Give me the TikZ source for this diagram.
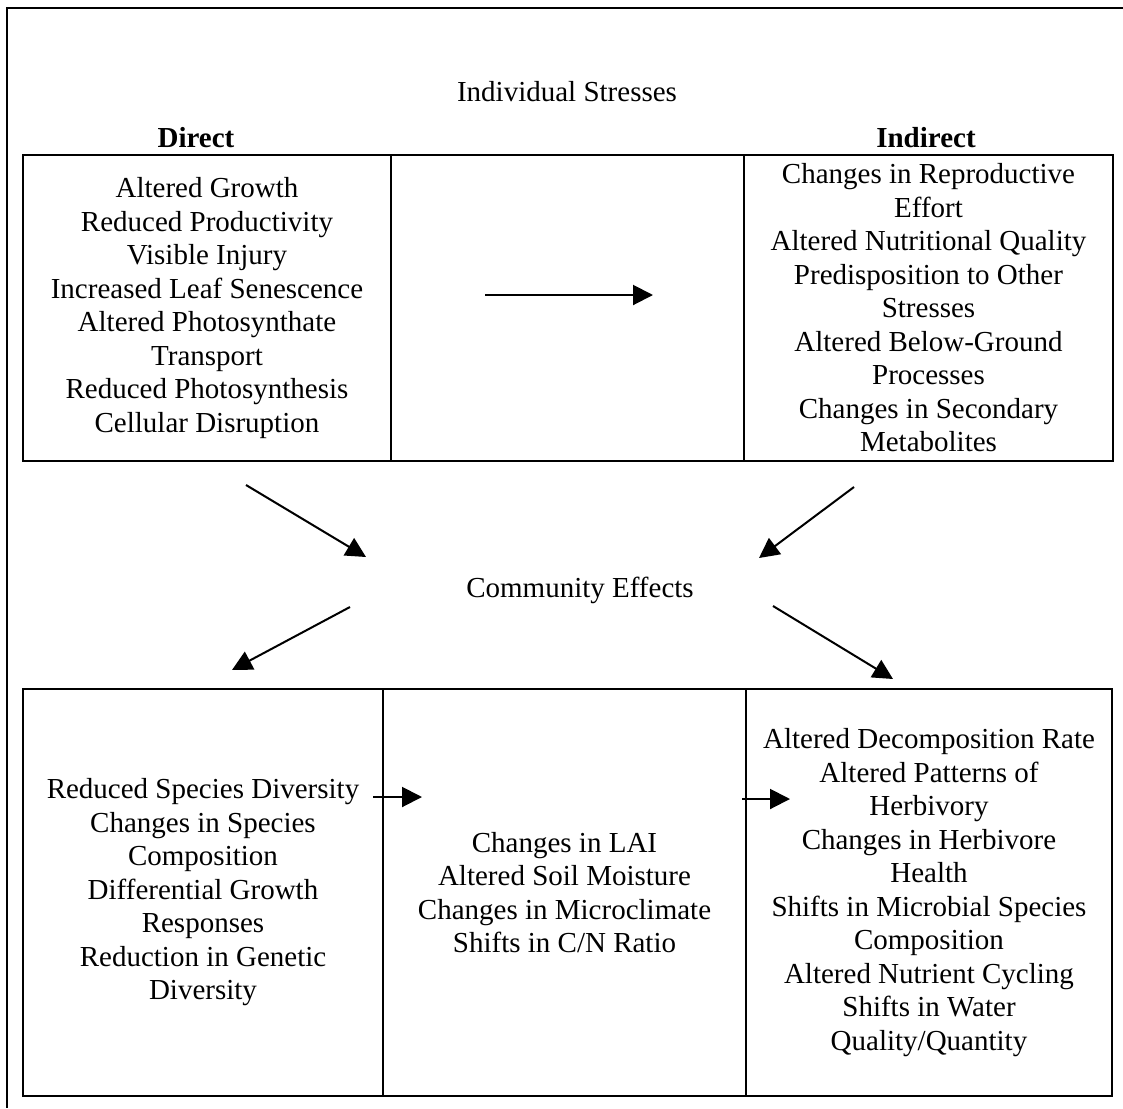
\documentclass[tikz,border=0pt]{standalone}
\usepackage{fontspec}
\setmainfont{Liberation Serif}
\usetikzlibrary{arrows.meta,positioning}

\begin{document}
\begin{tikzpicture}[x=1pt,y=-1pt,
	every node/.style={font=\fontsize{29}{33.5}\selectfont},
	cell/.style={draw, line width=2.5pt, align=center, inner sep=0pt},
	head/.style={font=\fontsize{29}{33.5}\selectfont\bfseries},
	arrow/.style={-{Triangle[length=20pt,width=20pt]}, line width=2pt}
	]
	\useasboundingbox (0,0) rectangle (1123,1108);
	\draw[line width=2.5pt] (1123,8) -| (7,1108);
	
	\node (Ttl) at (567,92) {Individual Stresses};
	\node[head] (DirH) at (196,138) {Direct};
	\node[head] (IndH) at (926,138) {Indirect};
	
	% top table
	\node[cell, minimum width=368pt, minimum height=306pt] (Dir) at (207,308)
		{Altered Growth\\ Reduced Productivity\\ Visible Injury\\ Increased Leaf Senescence\\
		 Altered Photosynthate\\ Transport\\ Reduced Photosynthesis\\ Cellular Disruption};
	\node[cell, minimum width=353pt, minimum height=306pt] (Mid) at (567.5,308) {};
	\node[cell, minimum width=369pt, minimum height=306pt] (Ind) at (928.5,308)
		{Changes in Reproductive\\ Effort\\ Altered Nutritional Quality\\ Predisposition to Other\\
		 Stresses\\ Altered Below-Ground\\ Processes\\ Changes in Secondary\\ Metabolites};
	
	\node (Com) at (580,590) {Community Effects};
	
	% bottom table
	\node[cell, minimum width=360pt, minimum height=407pt] (Spc) at (203,892.5)
		{Reduced Species Diversity\\ Changes in Species\\ Composition\\ Differential Growth\\
		 Responses\\ Reduction in Genetic\\ Diversity};
	\node[cell, minimum width=363pt, minimum height=407pt] (Eco) at (564.5,892.5)
		{Changes in LAI\\ Altered Soil Moisture\\ Changes in Microclimate\\ Shifts in C/N Ratio};
	\node[cell, minimum width=366pt, minimum height=407pt] (Sys) at (929,892.5)
		{Altered Decomposition Rate\\ Altered Patterns of\\ Herbivory\\ Changes in Herbivore\\
		 Health\\ Shifts in Microbial Species\\ Composition\\ Altered Nutrient Cycling\\
		 Shifts in Water\\ Quality/Quantity};
	
	% arrow ends
	\coordinate (t1) at (485,295);   \coordinate (t2) at (653,295);
	\coordinate (d1) at (246,485);   \coordinate (d2) at (366,557);
	\coordinate (i1) at (854,487);   \coordinate (i2) at (759,558);
	\coordinate (c1) at (350,607);   \coordinate (c2) at (232,670);
	\coordinate (e1) at (773,606);   \coordinate (e2) at (893,679);
	\coordinate (s1) at (373,797);   \coordinate (s2) at (422,797);
	\coordinate (r1) at (742,799);   \coordinate (r2) at (790,799);
	
	\draw[arrow] (t1) -- (t2);
	\draw[arrow] (d1) -- (d2);
	\draw[arrow] (i1) -- (i2);
	\draw[arrow] (c1) -- (c2);
	\draw[arrow] (e1) -- (e2);
	\draw[arrow] (s1) -- (s2);
	\draw[arrow] (r1) -- (r2);
	
\end{tikzpicture}
\end{document}
